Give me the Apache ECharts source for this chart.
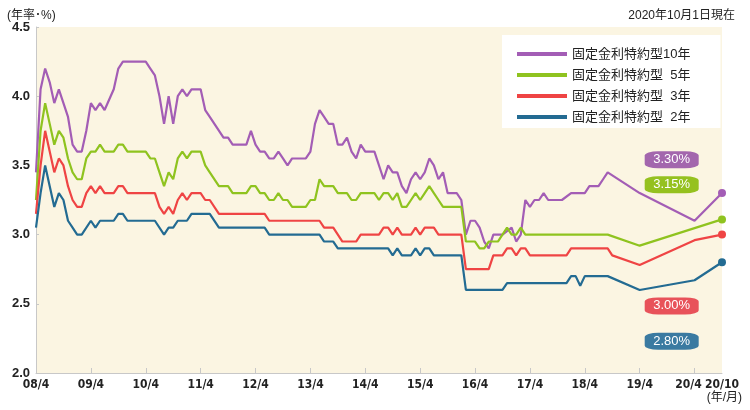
<!DOCTYPE html>
<html><head><meta charset="utf-8">
<script src="https://cdn.jsdelivr.net/npm/echarts@6/dist/echarts.min.js"></script>
<style>html,body{margin:0;padding:0;background:#fff}#c{width:750px;height:410px}</style>
</head><body><div id="c"></div>
<script>
const _ = null;
// monthly categories 08/4 .. 20/10
const startYear = 2008, startMonth = 4, monthCount = 151;
const categories = [];
for (let i = 0; i < monthCount; i++) {
  const t = (startMonth - 1) + i;
  const y = startYear + Math.floor(t / 12), m = (t % 12) + 1;
  categories.push(String(y % 100).padStart(2, '0') + '/' + m);
}
const tickLabels = ['08/4','09/4','10/4','11/4','12/4','13/4','14/4','15/4','16/4','17/4','18/4','19/4','20/4'];
const endTickLabel = '20/10';
const seriesNames = ['固定金利特約型10年','固定金利特約型  5年','固定金利特約型  3年','固定金利特約型  2年'];
const endLabels = ['3.30%','3.15%','3.00%','2.80%'];

// one row per fiscal year (Apr..Mar), last row 20/4..20/10
const rate10 = [
 3.45,4.05,4.20,4.10,3.95,4.05,3.95,3.85,3.65,3.60,3.60,3.75,
 3.95,3.90,3.95,3.90,_,4.05,4.20,4.25,_,_,_,_,
 4.25,4.20,4.15,4.00,3.80,4.00,3.80,4.00,4.05,4.00,4.05,_,
 4.05,3.90,3.85,_,_,3.70,3.70,3.65,_,_,3.65,3.75,
 3.65,3.60,3.60,3.55,3.55,3.60,3.55,3.50,3.55,_,_,3.55,
 3.60,3.80,3.90,3.85,3.80,3.80,3.65,3.65,3.70,3.60,3.55,3.65,
 3.60,_,3.60,_,3.40,3.50,3.45,3.45,3.35,3.30,3.40,3.45,
 3.40,3.45,3.55,3.50,3.40,3.45,3.30,_,3.30,3.25,3.00,3.10,
 3.10,3.05,2.95,2.90,3.00,_,3.00,_,3.05,2.95,3.00,3.25,
 3.20,3.25,3.25,3.30,3.25,_,_,3.25,_,3.30,_,_,
 3.30,3.35,_,3.35,3.40,3.45,_,_,_,_,_,_,
 3.30,_,_,_,_,_,_,_,_,_,_,_,
 3.10,_,_,_,_,_,3.30
];
const rate5 = [
 3.25,3.75,3.95,3.80,3.65,3.75,3.70,3.55,3.45,3.40,3.40,3.55,
 3.60,3.60,3.65,3.60,_,3.60,3.65,3.65,3.60,_,_,_,
 3.60,3.55,3.55,3.45,3.35,3.45,3.40,3.55,3.60,3.55,3.60,_,
 3.60,3.50,3.45,_,3.35,_,3.35,3.30,_,_,3.30,3.35,
 3.35,3.30,3.30,3.25,3.25,3.30,3.25,3.25,3.20,_,_,3.20,
 3.25,3.25,3.40,3.35,_,3.35,3.30,_,3.30,3.25,3.25,3.30,
 _,_,3.30,3.25,3.30,3.30,3.25,3.30,3.20,3.20,3.25,3.30,
 3.25,3.30,3.35,3.30,3.25,3.20,_,_,_,3.20,2.95,_,
 2.95,2.90,2.90,2.95,_,2.95,_,3.05,3.00,3.00,3.05,3.00,
 _,_,_,_,_,_,_,_,_,_,_,_,
 _,_,_,_,_,3.00,_,_,_,_,_,_,
 2.92,_,_,_,_,_,_,_,_,_,_,_,
 _,_,_,_,_,_,3.11
];
const rate3 = [
 3.15,3.50,3.75,3.60,3.45,3.55,3.50,3.35,3.25,3.20,3.20,3.30,
 3.35,3.30,3.35,3.30,_,3.30,3.35,3.35,3.30,_,_,_,
 _,_,3.30,3.20,3.15,3.20,3.15,3.25,3.30,3.25,3.30,_,
 3.30,3.25,3.25,_,3.15,_,_,_,_,_,_,_,
 _,_,3.15,3.10,_,_,_,_,_,_,_,_,
 _,_,3.10,3.05,_,3.05,_,2.95,_,_,2.95,3.00,
 _,_,_,3.00,3.05,3.05,3.00,3.05,3.00,_,3.00,3.05,
 3.00,3.05,_,3.05,3.00,_,_,_,_,3.00,2.75,_,
 _,_,_,2.75,2.85,_,2.85,2.90,2.90,2.85,2.90,2.90,
 2.85,_,_,_,_,_,_,_,2.85,2.90,_,_,
 _,_,_,_,_,2.90,2.85,_,_,_,_,_,
 2.78,_,_,_,_,_,_,_,_,_,_,_,
 2.96,_,_,_,_,_,3.00
];
const rate2 = [
 3.05,3.30,3.50,3.35,3.20,3.30,3.25,3.10,3.05,3.00,3.00,_,
 3.10,3.05,3.10,_,_,3.10,3.15,3.15,3.10,_,_,_,
 _,_,3.10,_,3.00,3.05,3.05,3.10,_,3.10,3.15,_,
 _,_,3.15,_,3.05,_,_,_,_,_,_,_,
 _,_,3.05,3.00,_,_,_,_,_,_,_,_,
 _,_,3.00,2.95,_,2.95,2.90,_,_,_,_,_,
 _,_,_,_,_,2.90,2.85,2.90,2.85,_,2.85,2.90,
 2.85,2.90,2.90,2.85,_,_,_,_,_,2.85,2.60,_,
 _,_,_,_,_,_,2.60,2.65,_,_,_,_,
 _,_,_,_,_,_,_,_,2.65,2.70,2.70,2.63,
 2.70,_,_,_,_,2.70,_,_,_,_,_,_,
 2.60,_,_,_,_,_,_,_,_,_,_,_,
 2.67,_,_,_,_,_,2.80
];
const rates = [rate10, rate5, rate3, rate2];

// styles & annotation placement
const lineColors = ['#a35db5','#8fc31f','#ef4444','#236b92'];
const boxColors = ['#a366ad','#95c11f','#e8525a','#3a7aa1'];
const boxAt = [[139, 3.54],[139, 3.36],[139, 2.485],[139, 2.23]];

const chart = echarts.init(document.getElementById('c'), null, {renderer:'canvas'});
const cjk = '"Liberation Sans","Noto Sans CJK JP",sans-serif';
const narrow = '"Liberation Sans Narrow","DejaVu Sans Condensed","Liberation Sans",sans-serif';
const last = monthCount - 1;
const lastTick = tickLabels[tickLabels.length - 1];
const xLabelStyle = {margin: 6, fontSize: 12, fontWeight: 'bold', color: '#222', fontFamily: narrow, hideOverlap: false};
chart.setOption({
  animation: false,
  backgroundColor: '#fff',
  title: [
    {text: '(年率･%)', left: 2, top: 5, textStyle: {fontSize: 12, fontWeight: 'normal', color: '#222', fontFamily: cjk}},
    {text: '2020年10月1日現在', right: 10, top: 5, textStyle: {fontSize: 12, fontWeight: 'normal', color: '#222', fontFamily: cjk}}
  ],
  grid: {left: 36, right: 28, top: 27, bottom: 37, show: true, backgroundColor: '#fbf5e2', borderWidth: 0},
  legend: {
    data: seriesNames, orient: 'vertical', left: 502, top: 35,
    backgroundColor: '#fff', padding: [12, 30, 4, 15],
    itemWidth: 50, itemHeight: 4, itemGap: 7, icon: 'rect',
    textStyle: {fontSize: 13, color: '#222', fontFamily: cjk, lineHeight: 14}
  },
  xAxis: [{
    type: 'category', data: categories, boundaryGap: false,
    axisLine: {lineStyle: {color: '#c8c8c8'}},
    axisTick: {inside: true, length: 5, lineStyle: {color: '#c8c8c8'}, interval: (i, v) => tickLabels.includes(v)},
    axisLabel: Object.assign({
      interval: (i, v) => tickLabels.includes(v),
      formatter: v => v === lastTick ? '{s|' + v + '}' : v,
      rich: {s: {padding: [0, 12, 0, 0], fontSize: 12, fontWeight: 'bold', color: '#222', fontFamily: narrow}}
    }, xLabelStyle)
  }, {
    type: 'category', data: categories, boundaryGap: false, position: 'bottom', offset: 0,
    axisLine: {show: false}, axisTick: {show: false}, splitLine: {show: false},
    axisLabel: Object.assign({interval: (i, v) => v === endTickLabel, showMaxLabel: true}, xLabelStyle)
  }],
  yAxis: {
    type: 'value', min: 2.0, max: 4.5, interval: 0.5,
    axisLine: {show: true, lineStyle: {color: '#c8c8c8'}},
    axisTick: {show: true, inside: true, length: 3, lineStyle: {color: '#c8c8c8'}},
    splitLine: {show: false},
    axisLabel: {formatter: v => v.toFixed(1), margin: 6, fontSize: 13, fontWeight: 'bold', color: '#222', fontFamily: '"Liberation Sans",sans-serif'}
  },
  graphic: [{type: 'text', right: 8, top: 392, style: {text: '(年/月)', font: '12px ' + cjk, fill: '#222'}}],
  series: rates.map((d, k) => ({
    name: seriesNames[k], type: 'line', data: d, connectNulls: true, xAxisIndex: 0,
    showSymbol: true, showAllSymbol: true, symbol: 'circle',
    symbolSize: (v, p) => p.dataIndex === last ? 8 : 0,
    color: lineColors[k],
    lineStyle: {width: 2.2, color: lineColors[k]},
    itemStyle: {color: lineColors[k]},
    emphasis: {disabled: true},
    markPoint: {
      symbol: 'roundRect', symbolSize: [54, 17], silent: true,
      itemStyle: {color: boxColors[k]},
      label: {show: true, color: '#fff', fontSize: 13, fontFamily: '"Liberation Sans",sans-serif', formatter: () => endLabels[k]},
      data: [{coord: boxAt[k], value: endLabels[k]}]
    }
  }))
});
</script></body></html>
